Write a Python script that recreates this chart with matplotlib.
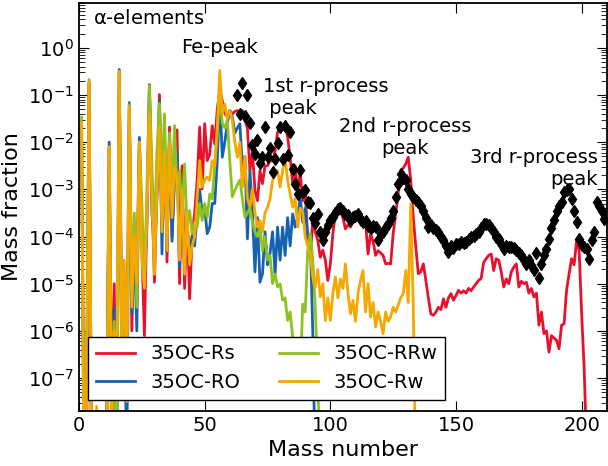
import numpy as np
import matplotlib.pyplot as plt

plt.rcParams['font.family'] = 'DejaVu Sans'
plt.rcParams['mathtext.default'] = 'regular'

# log10(mass fraction) per mass number, starting at A = 1
rs_log = [
    -1.6, -9, -9, -0.75, -9, -9, -9, -9, -9, -9,
    -8, -2.1, -7.5, -5.0, -9, -0.5, -6.0, -4.8, -7.0, -1.2,
    -6.0, -4.0, -4.7, -2.0, -4.2, -6.1, -3.5, -0.78, -3.0, -4.97,
    -3.0, -0.99, -3.8, -1.8, -4.54, -1.68, -4.0, -2.6, -1.74, -5.0,
    -2.5, -5.1, -3.6, -5.32, -4.0, -3.5, -2.8, -1.68, -2.99, -1.61,
    -2.39, -2.25, -1.65, -2.04, -1.3, -0.9, -1.12, -1.4, -1.45, -1.33,
    -1.4, -1.35, -1.33, -1.4, -1.33, -1.54, -1.7, -2.6, -2.2, -3.02,
    -3.24, -2.6, -2.88, -2.5, -2.5, -2.39, -2.4, -2.18, -1.79, -1.68,
    -1.66, -1.65, -1.89, -2.32, -2.88, -2.5, -3.09, -2.64, -3.24, -3.0,
    -4.08, -4.44, -3.66, -3.9, -4.08, -4.44, -4.29, -4.5, -4.93, -4.58,
    -3.94, -3.52, -3.5, -3.45, -3.6, -3.84, -3.75, -3.8, -3.7, -3.66,
    -3.64, -3.62, -3.65, -3.7, -4.37, -3.94, -4.1, -4.40, -4.3, -4.35,
    -4.4, -4.58, -4.57, -4.58, -3.94, -3.52, -3.09, -2.6, -2.55, -2.46,
    -2.32, -2.81, -3.59, -4.22, -4.79, -4.75, -4.58, -4.93, -5.3, -5.64,
    -5.67, -5.6, -5.5, -5.55, -5.32, -5.5, -5.3, -5.21, -5.35, -5.25,
    -5.14, -5.2, -5.15, -5.2, -5.1, -5.15, -5.07, -5.0, -4.93, -4.89,
    -4.55, -4.47, -4.4, -4.37, -4.72, -4.47, -4.5, -4.75, -5.07, -4.9,
    -5.0, -4.75, -4.65, -4.58, -5.07, -4.95, -5.0, -4.97, -5.2, -5.1,
    -5.28, -5.2, -5.88, -5.6, -6.06, -6.0, -6.45, -6.1, -6.15, -6.2,
    -6.38, -5.88, -5.85, -5.14, -4.79, -4.47, -4.6, -4.08, -4.3, -5.64,
    -6.8, -8.5, -9, -9, -9,
]

ro_log = [
    -1.75, -9, -7.2, -0.75, -9, -9, -9, -9, -9, -9,
    -8.5, -2.0, -9, -5.5, -7.8, -0.46, -6.5, -5.2, -9, -1.16,
    -5.63, -4.2, -6.0, -1.9, -4.0, -5.0, -3.8, -0.85, -3.5, -4.3,
    -3.2, -1.1, -4.37, -2.0, -4.33, -1.9, -4.1, -2.8, -2.2, -4.65,
    -3.0, -4.65, -3.8, -4.3, -4.0, -4.2, -3.5, -3.0, -3.5, -3.38,
    -3.94, -3.8, -3.3, -3.3, -2.4, -1.0, -2.32, -2.0, -1.6, -1.33,
    -1.47, -1.8, -1.7, -1.61, -2.53, -2.3, -4.05, -2.6, -3.5, -4.75,
    -3.6, -4.97, -4.79, -3.9, -4.6, -4.36, -3.9, -4.8, -3.8, -4.5,
    -3.8, -4.4, -3.6, -4.2, -3.52, -3.8, -3.6, -3.16, -3.7, -3.4,
    -4.0, -4.0, -6.0, -9,
]

rrw_log = [
    -1.47, -9, -7.5, -0.67, -9, -9, -9, -9, -9, -9,
    -9, -2.1, -8, -5.8, -9, -0.5, -7.0, -5.5, -6.8, -1.2,
    -5.2, -3.5, -5.5, -2.0, -3.3, -5.0, -3.0, -0.8, -2.5, -4.0,
    -2.2, -1.18, -2.8, -1.40, -3.5, -1.8, -3.2, -1.65, -3.0, -2.6,
    -3.5, -2.46, -3.8, -3.45, -3.94, -3.7, -3.8, -3.3, -3.66, -3.3,
    -3.6, -3.1, -3.2, -2.5, -1.8, -0.98, -1.6, -1.7, -1.54, -2.4,
    -3.16, -3.02, -2.9, -2.8, -3.2, -3.59, -3.5, -3.4, -3.7, -3.9,
    -4.0, -3.8, -4.3, -4.0, -4.5, -4.4, -5.0, -4.8, -5.07, -5.0,
    -5.35, -5.3, -5.78, -5.6, -6.13, -6.2, -6.48, -7.0, -5.43, -5.6,
    -4.3, -3.94, -4.5, -5.5, -7.0, -9,
]

rw_log = [
    -1.6, -9, -7.5, -0.73, -9, -9, -7.6, -9, -9, -9,
    -9, -2.1, -8, -6.0, -7.0, -0.5, -6.2, -4.5, -7.5, -1.25,
    -5.5, -4.0, -5.0, -2.0, -4.5, -5.1, -3.6, -1.4, -3.2, -4.8,
    -3.0, -1.68, -3.9, -2.2, -4.3, -2.0, -3.6, -2.5, -2.8, -4.5,
    -3.0, -4.8, -3.5, -4.6, -4.2, -4.0, -3.2, -2.39, -2.95, -2.8,
    -2.74, -2.81, -2.39, -2.5, -1.7, -0.48, -1.4, -1.19, -1.5, -1.33,
    -1.54, -2.0, -2.32, -2.0, -2.95, -2.3, -3.2, -3.38, -3.0, -3.5,
    -3.8, -3.66, -3.9, -3.5, -3.38, -3.2, -2.81, -2.7, -2.6, -2.95,
    -2.6, -2.35, -2.8, -3.1, -3.38, -3.2, -3.8, -3.4, -3.5, -4.01,
    -4.2, -4.36, -4.86, -5.07, -4.7, -5.28, -5.0, -5.78, -5.3, -5.78,
    -5.2, -4.86, -5.3, -4.9, -5.1, -4.58, -5.2, -5.64, -5.35, -5.8,
    -5.2, -4.93, -4.72, -5.6, -5.0, -5.71, -5.4, -5.92, -5.6, -5.8,
    -6.06, -5.6, -5.8, -5.7, -5.5, -5.6, -5.45, -5.3, -5.21, -4.72,
    -5.4, -3.31, -5.5, -9,
]

# solar r-process pattern, A = 63 ... 209
solar_mass = np.arange(63, 210)
solar_log = [
    -0.99, -1.4, -0.74, -1.45, -0.99, -1.6, -2.05, -2.25, -1.96, -2.44,
    -2.32, -1.67, -2.32, -2.12, -2.64, -2.35, -2.02, -1.67, -2.35, -1.65,
    -2.28, -1.79, -2.56, -2.88, -3.09, -2.6, -3.06, -3.02, -3.27, -3.29,
    -3.6, -3.72, -3.53, -3.9, -4.07, -3.9, -3.75, -3.65, -3.59, -3.5,
    -3.42, -3.40, -3.45, -3.53, -3.55, -3.64, -3.59, -3.56, -3.52, -3.64,
    -3.7, -3.68, -3.78, -3.83, -3.78, -3.80, -4.08, -3.95, -3.91, -3.8,
    -3.73, -3.6, -3.45, -3.17, -2.88, -2.67, -2.75, -2.81, -2.99, -3.1,
    -3.17, -3.22, -3.27, -3.35, -3.45, -3.6, -3.80, -3.75, -3.83, -3.87,
    -3.91, -4.0, -4.08, -4.2, -4.33, -4.2, -4.25, -4.15, -4.15, -4.12,
    -4.13, -4.12, -4.05, -4.01, -3.98, -3.95, -3.9, -3.82, -3.73, -3.73,
    -3.76, -3.83, -3.9, -4.0, -4.05, -4.15, -4.26, -4.2, -4.22, -4.22,
    -4.25, -4.29, -4.35, -4.40, -4.5, -4.58, -4.5, -4.61, -4.7, -4.36,
    -4.89, -4.58, -4.4, -4.26, -4.05, -3.83, -3.66, -3.45, -3.35, -3.27,
    -3.06, -3.02, -3.0, -3.20, -3.45, -3.69, -4.05, -4.19, -4.22, -4.26,
    -4.47, -4.08, -3.9, -3.27, -3.35, -3.45, -3.62,
]

series = [
    ('35OC-Rs', rs_log, '#e8112d'),
    ('35OC-RO', ro_log, '#1462b0'),
    ('35OC-RRw', rrw_log, '#8dc21f'),
    ('35OC-Rw', rw_log, '#f5a800'),
]

fig, ax = plt.subplots(figsize=(6.08, 4.66), dpi=100)
fig.subplots_adjust(left=0.130, right=0.998, bottom=0.118, top=0.994)

for name, vals, col in series:
    mass = np.arange(1, len(vals) + 1)
    ax.semilogy(mass, 10.0 ** np.array(vals), color=col, lw=2, label=name)

ax.semilogy(solar_mass, 10.0 ** np.array(solar_log), 'kd', ms=6, ls='none')

ax.set_xlim(0, 210)
ax.set_ylim(2e-8, 9)
ax.set_xticks([0, 50, 100, 150, 200])
ax.tick_params(which='both', direction='in', top=True, right=True, labelsize=14)
ax.tick_params(which='major', length=7)
ax.tick_params(which='minor', length=4)
for sp in ax.spines.values():
    sp.set_linewidth(1.3)

ax.set_xlabel('Mass number', fontsize=16)
ax.set_ylabel('Mass fraction', fontsize=16)

# labels of the abundance peaks
ax.text(5.5, 10 ** 0.62, r'$\alpha$-elements', fontsize=14, va='center')
ax.text(56, 1.0, 'Fe-peak', ha='center', va='center', fontsize=14)
ax.text(73.3, 10 ** -1.05, '1st r-process\n peak', ha='left', va='center', fontsize=14)
ax.text(129.9, 10 ** -1.9, '2nd r-process\npeak', ha='center', va='center',
        multialignment='center', fontsize=14)
ax.text(206.5, 10 ** -2.56, '3rd r-process\npeak', ha='right', va='center',
        multialignment='right', fontsize=14)

ax.legend(ncol=2, loc='lower left', bbox_to_anchor=(0.017, 0.027), borderaxespad=0,
          fontsize=14, fancybox=False, edgecolor='black', framealpha=1)

plt.savefig('out.png', dpi=100)
